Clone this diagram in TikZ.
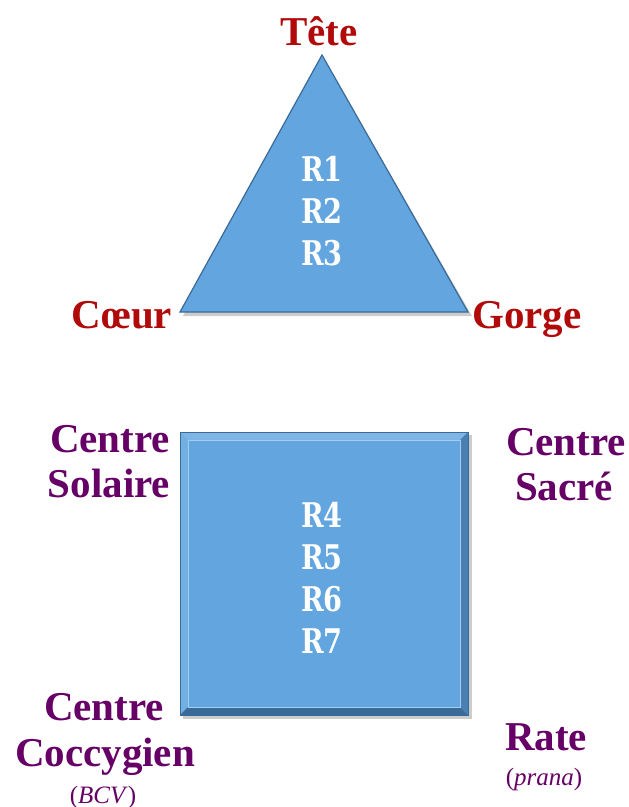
\documentclass[tikz,border=0pt]{standalone}
\usepackage{graphicx}
\usepackage{fontspec}
\setmainfont{Liberation Serif}
\newfontfamily\slabfont{DejaVu Serif}
\definecolor{boxblue}{HTML}{62A5DF}
\definecolor{edgeblue}{HTML}{3A6A98}
\definecolor{lightblue}{HTML}{7DB6E6}
\definecolor{darkblue}{HTML}{4A7FB2}
\definecolor{redlab}{HTML}{B00A0A}
\definecolor{purplab}{HTML}{660066}
\tikzset{
  rlab/.style={text=white, anchor=base, inner sep=0pt, font=\slabfont\bfseries\fontsize{34}{40}\selectfont},
  redtxt/.style={text=redlab, font=\bfseries\fontsize{41}{46}\selectfont, anchor=base, inner sep=0pt},
  purtxt/.style={text=purplab, font=\bfseries\fontsize{41}{46}\selectfont, anchor=base, inner sep=0pt},
  smalltxt/.style={text=purplab, font=\fontsize{25}{28}\selectfont, anchor=base, inner sep=0pt},
}
\newcommand{\rtxt}[1]{\scalebox{0.8}[1]{#1}}
\begin{document}
\begin{tikzpicture}[x=1pt,y=-1pt]
\useasboundingbox (0,0) rectangle (629,807);
% triangle
\fill[black!20] (324,59) -- (183,316) -- (472,316) -- cycle;
\fill[boxblue, draw=edgeblue, line width=1.2pt] (322,55) -- (180,312) -- (468,312) -- cycle;
\node[rlab] (r1) at (322,181) {\rtxt{R1}};
\node[rlab] (r2) at (322,223) {\rtxt{R2}};
\node[rlab] (r3) at (322,265) {\rtxt{R3}};
% square with bevel
\fill[black!20] (183,435) rectangle (472,719);
\fill[boxblue] (180,432) rectangle (468,715);
\fill[lightblue] (180,432) -- (468,432) -- (460,440) -- (188,440) -- cycle;
\fill[lightblue!60!boxblue] (180,432) -- (188,440) -- (188,707) -- (180,715) -- cycle;
\fill[darkblue] (468,432) -- (468,715) -- (460,707) -- (460,440) -- cycle;
\fill[edgeblue] (180,715) -- (468,715) -- (460,707) -- (188,707) -- cycle;
\draw[edgeblue, line width=0.8pt] (180,432) rectangle (468,715);
\draw[lightblue!70!white, line width=0.5pt] (188,440) rectangle (460,707);
\node[rlab] (r4) at (322,527) {\rtxt{R4}};
\node[rlab] (r5) at (322,569) {\rtxt{R5}};
\node[rlab] (r6) at (322,611) {\rtxt{R6}};
\node[rlab] (r7) at (322,653) {\rtxt{R7}};
% labels
\node[redtxt] (tete) at (319,45) {Tête};
\node[redtxt] (coeur) at (122,328) {Cœur};
\node[redtxt] (gorge) at (527,328) {Gorge};
\node[purtxt] (solaire1) at (110,452) {Centre};
\node[purtxt] (solaire2) at (109,497) {Solaire};
\node[purtxt] (sacre1) at (566,455) {Centre};
\node[purtxt] (sacre2) at (564,500) {Sacré};
\node[purtxt] (coccy1) at (104,720) {Centre};
\node[purtxt] (coccy2) at (105,766) {Coccygien};
\node[smalltxt] (bcv) at (103,803) {(\textit{BCV})};
\node[purtxt] (rate) at (546,750) {Rate};
\node[smalltxt] (prana) at (544,785) {(\textit{prana})};
\end{tikzpicture}
\end{document}
